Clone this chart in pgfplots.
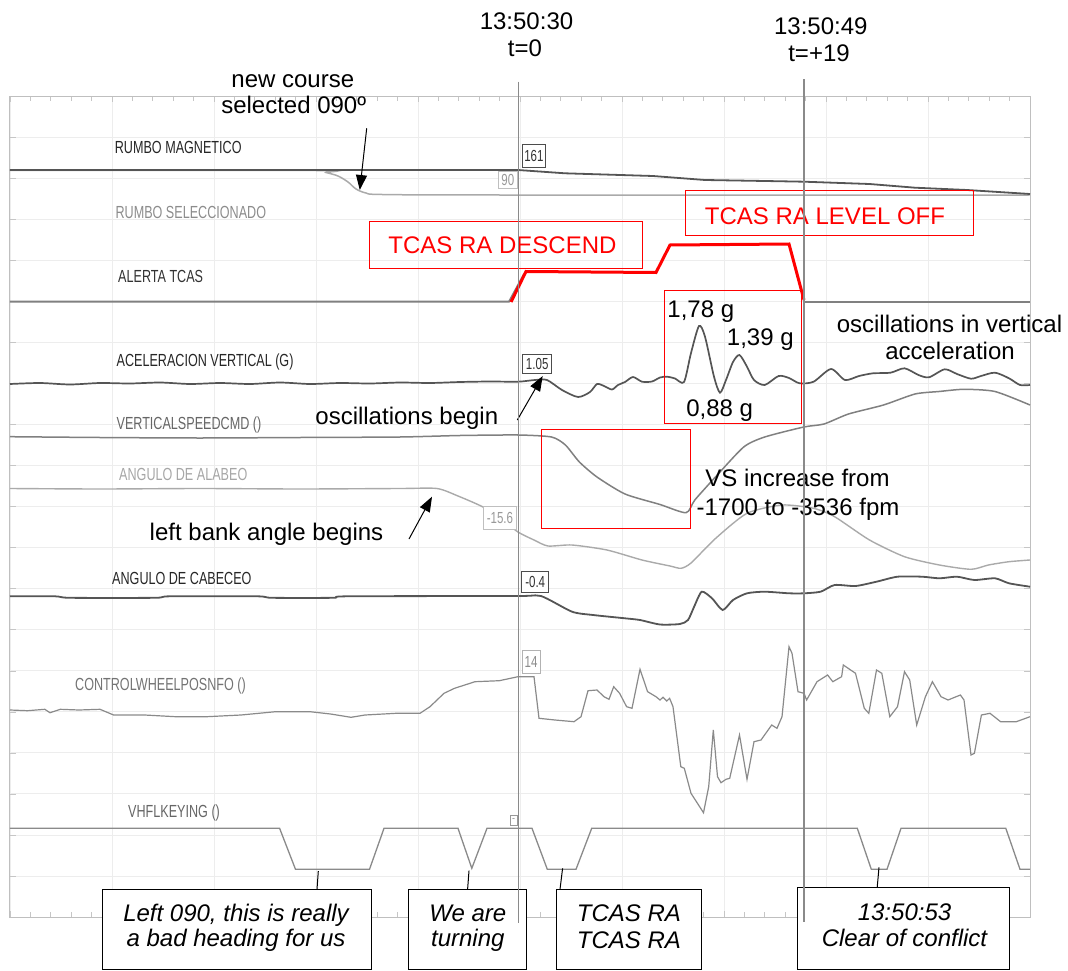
\documentclass[border=0pt]{standalone}
\usepackage{pgfplots}
\pgfplotsset{compat=1.18}
\usetikzlibrary{arrows.meta}
\usepackage{fontspec}
\setmainfont{Liberation Sans}
\newfontfamily\narrowfont[FakeStretch=0.72]{Liberation Sans}
\newcommand\lab{\narrowfont\fontsize{17.5}{20}\selectfont}
\newcommand\val{\narrowfont\fontsize{16}{18}\selectfont}
\newcommand\ann{\fontsize{24}{27}\selectfont}
\definecolor{tdark}{HTML}{555555}
\definecolor{tmid}{HTML}{808080}
\definecolor{tlight}{HTML}{AAAAAA}
\definecolor{tline}{HTML}{8A8A8A}
\begin{document}
\begin{tikzpicture}
\begin{axis}[
  at={(10pt,54pt)}, anchor=south west, scale only axis,
  width=1020pt, height=820.5pt,
  xmin=10, xmax=1030, ymin=96.5, ymax=917, y dir=reverse,
  xtick={10,112,214,316,418,520,622,724,826,928,1030},
  ytick={96.5,137.5,178.6,219.6,260.6,301.6,342.7,383.7,424.7,465.7,506.8,547.8,588.8,629.8,670.9,711.9,752.9,793.9,835,876,917},
  xticklabels={}, yticklabels={},
  minor x tick num=4, minor y tick num=4,
  tick align=inside, tick pos=both,
  major tick length=6pt, minor tick length=5pt,
  tick style={color=gray!45, line width=0.7pt},
  grid=major, major grid style={color=gray!14, line width=0.9pt},
  axis line style={color=gray!50, line width=1pt},
  clip=false,
]
% RUMBO SELECCIONADO
\addplot[color=tlight, line width=1.5pt, smooth, tension=0.5] coordinates {(10,170.5) (316,170.5) (326,172.5) (338,176) (348,182) (356,189) (366,193) (382,194.5) (499,195) (1030,195)};
% RUMBO MAGNETICO
\addplot[color=tdark, line width=1.8pt] coordinates {(10,170) (518,170) (565,173.3) (653,176) (705,180) (765,181) (804,181.7) (869.5,184) (915,187.7) (967,190) (1030,194)};
% ALERTA TCAS
\addplot[color=tmid, line width=1.8pt] coordinates {(10,301.6) (509,301.6) (524,274)};
\addplot[color=tmid, line width=1.8pt] coordinates {(804,301.6) (1030,301.6)};
\addplot[color=red, line width=3pt] coordinates {(511,302) (526,271.5) (656,272.5) (670,245) (789,244) (804,300)};
% ACELERACION VERTICAL
\addplot[color=tdark, line width=1.7pt, smooth, tension=0.45] coordinates {(10,384) (40,383) (70,384.5) (100,383) (130,383.5) (160,382.5) (190,384) (220,383) (250,384) (280,382.5) (310,384) (340,383) (370,383.5) (400,382.5) (430,383) (460,382) (490,381.5) (518,381.7) (535,380) (547,380) (562,390) (578,397) (590,392) (597,384) (604,386) (612,389.5) (618,385) (625,382) (633,377) (642,381.7) (652,381.5) (660,377.5) (667,376.7) (675,378.5) (684,382) (691,353) (699,326) (705,336.7) (714,376.7) (720,392.7) (726,380) (733,362) (739.5,355) (747,366.7) (754,380) (764.7,385) (778.6,376) (789,378) (799.6,383.3) (813.6,381.7) (831,369) (845,380) (859,376) (873,373.3) (890.5,372.7) (904.5,368.3) (918.5,375) (929,377.3) (944.7,369.3) (957,374) (971,378.7) (981,376) (995,372.7) (1009,378.3) (1020,385) (1030,385)};
% VERTICAL SPEED
\addplot[color=tmid, line width=1.5pt, smooth, tension=0.4] coordinates {(10,436.7) (100,437.5) (200,438) (300,437.5) (400,437) (460,435.5) (518,435) (551.5,437) (565.4,445) (579.4,462) (597,477) (625,494) (660,504.5) (686,512.7) (694.8,500) (715.7,476.7) (743.7,447) (764.7,437) (803.8,427) (824,424) (848.5,414) (883.5,405) (915,394) (939,391.5) (964,389.3) (995,391.5) (1030,405)};
% ANGULO DE ALABEO
\addplot[color=tlight, line width=1.4pt, smooth, tension=0.4] coordinates {(10,488.5) (100,489) (200,488.5) (300,489) (400,488.5) (437,488.5) (458,496) (482,506.5) (500,518) (518,532) (534,540) (548,546) (572,545) (607,550) (642,560) (670,566) (681,568.3) (691,563) (715.7,538.3) (747,513.3) (782,505) (813.6,508.3) (834.6,516.7) (869.5,540) (904.5,556.7) (939.4,565) (971,569.3) (988.4,565) (1009,561.7) (1030,560)};
% ANGULO DE CABECEO
\addplot[color=tdark, line width=1.8pt, smooth, tension=0.4] coordinates {(10,596.3) (55,596.3) (70,597.8) (155,597.8) (170,596.3) (257,596.3) (272,597.8) (333,597.8) (348,596.3) (518,596) (541,596) (572,611.7) (593,615) (625,618.3) (640,620) (660,624.5) (680,624) (688,620) (694,607) (701.7,591.7) (712,598.3) (722.7,610) (733,600) (747,593.3) (764.7,591.7) (789,593.3) (804,593.3) (820.6,591.7) (834.6,585) (855.5,586) (876.5,581.7) (897.5,576.7) (922,576.7) (939.4,578.3) (957,576.7) (974.4,580) (995,578.3) (1009,583.3) (1030,586.7)};
% CONTROL WHEEL
\addplot[color=tline, line width=1.2pt] coordinates {(10,710) (27.5,710.7) (44.8,709.3) (50,712.7) (60.3,709.3) (79,710) (100,709.3) (113.6,715) (144.6,715) (175.6,716.7) (206.6,716.7) (241,715) (275.5,711.7) (310,711.7) (330.6,714) (351,717.3) (365,715) (396,713.3) (420,713.3) (430,706.7) (444,693.3) (454.5,688.3) (475,681.7) (499.3,680.7) (518,676.7) (534,676.7) (539,718.3) (555,720) (574,721.7) (581,716.7) (588,690.7) (597,690) (604,696.7) (609,699.3) (613.7,686.7) (619.6,693.3) (626.6,706.7) (632,708.3) (640,669.3) (647.6,691.7) (656,696.7) (660,700) (663,697.3) (666.8,701) (669.6,698.3) (673,706.7) (680.8,766.7) (684.3,768.3) (691,793.3) (703.5,812.7) (708.7,786.7) (713.3,730) (717.5,776.7) (721,782.7) (726,779.3) (729.7,778.3) (739.5,735) (747,779.3) (754,741.7) (761,740) (771.7,725) (777,728.3) (782,716.7) (789,646.7) (792,653.3) (798,691.7) (804,693.3) (806.6,700) (817,681.7) (827.6,675) (832.8,681.7) (841.6,676.7) (843.3,665) (855.5,673.3) (864.3,708.3) (868.8,713.3) (876.5,670) (881.8,673.3) (889.8,716.7) (897.5,706.7) (904.5,671.7) (909.7,680) (916.7,725) (925.4,696.7) (932.4,681.7) (941,696.7) (948,700) (960.4,695) (964,700) (971,755) (974.4,753.3) (981.4,715) (990,713.3) (1000.6,721.7) (1016.3,721.7) (1030,716.7)};
% VHF KEYING
\addplot[color=tline, line width=1.3pt] coordinates {(10,828.3) (279.6,828.3) (295.5,869.3) (369.5,869.3) (384,828.3) (458,828.3) (471.8,868.3) (487,828.3) (532,828.3) (547.3,869.3) (576,869.3) (591.7,828.3) (857.3,828.3) (871.3,869.3) (887,869.3) (901,828.3) (1005.8,828.3) (1020,869.3) (1030,869.3)};

% trace labels
\node[anchor=base west, inner sep=0, text=black!85] at (axis cs:114.7,153.3) {\lab RUMBO MAGNETICO};
\node[anchor=base west, inner sep=0, text=black!45] at (axis cs:115.4,218.3) {\lab RUMBO SELECCIONADO};
\node[anchor=base west, inner sep=0, text=black!80] at (axis cs:118,282.7) {\lab ALERTA TCAS};
\node[anchor=base west, inner sep=0, text=black!85] at (axis cs:116.4,366.5) {\lab ACELERACION VERTICAL (G)};
\node[anchor=base west, inner sep=0, text=black!60] at (axis cs:116.4,429) {\lab VERTICALSPEEDCMD ()};
\node[anchor=base west, inner sep=0, text=black!35] at (axis cs:119,480) {\lab ANGULO DE ALABEO};
\node[anchor=base west, inner sep=0, text=black!85] at (axis cs:112,584) {\lab ANGULO DE CABECEO};
\node[anchor=base west, inner sep=0, text=black!55] at (axis cs:75,690.5) {\lab CONTROLWHEELPOSNFO ()};
\node[anchor=base west, inner sep=0, text=black!60] at (axis cs:128,817) {\lab VHFLKEYING ()};

% value boxes
\draw[black!70, fill=white, line width=1pt] (axis cs:522.8,144.3) rectangle (axis cs:545,167.7);
\node[inner sep=0, text=black!80] at (axis cs:533.9,156) {\val 161};
\draw[black!25, fill=white, line width=1pt] (axis cs:498.6,171.7) rectangle (axis cs:517,189);
\node[inner sep=0, text=black!40] at (axis cs:507.8,180.4) {\val 90};
\draw[black!70, fill=white, line width=1pt] (axis cs:522.7,354) rectangle (axis cs:551.7,373.3);
\node[inner sep=0, text=black!80] at (axis cs:537.2,363.7) {\val 1.05};
\draw[black!25, fill=white, line width=1pt] (axis cs:483.8,506.7) rectangle (axis cs:516,529.3);
\node[inner sep=0, text=black!40] at (axis cs:499.9,518) {\val -15.6};
\draw[black!70, fill=white, line width=1pt] (axis cs:521.7,571.7) rectangle (axis cs:548.7,592.7);
\node[inner sep=0, text=black!80] at (axis cs:535.2,582.2) {\val -0.4};
\draw[black!30, fill=white, line width=1pt] (axis cs:522,650) rectangle (axis cs:540,673.3);
\node[inner sep=0, text=black!45] at (axis cs:531,661.7) {\val 14};
\draw[black!40, fill=white, line width=0.8pt] (axis cs:510.3,815) rectangle (axis cs:517.2,825);
\node[inner sep=0, text=black!50] at (axis cs:513.7,820) {\fontsize{9}{10}\selectfont -};

% red boxes and texts
\draw[red, line width=1pt] (axis cs:369,221) rectangle (axis cs:642,268);
\node[anchor=base, inner sep=0, text=red] at (axis cs:502.5,253.3) {\ann TCAS RA DESCEND};
\draw[red, line width=1pt] (axis cs:685,191) rectangle (axis cs:973,235);
\node[anchor=base, inner sep=0, text=red] at (axis cs:825,224.3) {\ann TCAS RA LEVEL OFF};
\draw[red, line width=1pt] (axis cs:664.4,290) rectangle (axis cs:801.4,423.3);
\draw[red, line width=1pt] (axis cs:541.7,429.3) rectangle (axis cs:690,528.3);

% black annotations
\node[anchor=base, inner sep=0] at (axis cs:700.8,317.5) {\ann 1,78 g};
\node[anchor=base, inner sep=0] at (axis cs:760.3,345) {\ann 1,39 g};
\node[anchor=base, inner sep=0] at (axis cs:719.7,416.7) {\ann 0,88 g};
\node[anchor=base, inner sep=0] at (axis cs:949.5,332.7) {\ann oscillations in vertical};
\node[anchor=base, inner sep=0] at (axis cs:950,359) {\ann acceleration};
\node[anchor=base, inner sep=0] at (axis cs:797.5,486) {\ann VS increase from};
\node[anchor=base, inner sep=0] at (axis cs:798,515) {\ann -1700 to -3536 fpm};
\node[anchor=base, inner sep=0] at (axis cs:406.8,424) {\ann oscillations begin};
\node[anchor=base, inner sep=0] at (axis cs:266.5,540) {\ann left bank angle begins};
\node[anchor=base, inner sep=0] at (axis cs:292.8,87.3) {\ann new course};
\node[anchor=base, inner sep=0] at (axis cs:293.7,114) {\ann selected 090º};
\node[anchor=base, inner sep=0] at (axis cs:526.5,30) {\ann 13:50:30};
\node[anchor=base, inner sep=0] at (axis cs:525,57) {\ann t=0};
\node[anchor=base, inner sep=0] at (axis cs:820.8,34.3) {\ann 13:50:49};
\node[anchor=base, inner sep=0] at (axis cs:819,61.7) {\ann t=+19};

% arrows
\draw[black, line width=1pt, -{Triangle[length=15pt,width=11pt]}] (axis cs:366.7,128.3) -- (axis cs:359.8,190);
\draw[black, line width=1pt, -{Triangle[length=15pt,width=11pt]}] (axis cs:517.3,420) -- (axis cs:542.7,376);
\draw[black, line width=1pt, -{Triangle[length=15pt,width=11pt]}] (axis cs:409,539) -- (axis cs:432,496.7);

% callout leaders and boxes
\draw[black, line width=1pt] (axis cs:318.3,871) -- (axis cs:317,889.3);
\draw[black, line width=1pt] (axis cs:469,870.7) -- (axis cs:467.6,889.3);
\draw[black, line width=1pt] (axis cs:562.6,868.3) -- (axis cs:560,889.3);
\draw[black, line width=1pt] (axis cs:879,867.3) -- (axis cs:877.2,887.3);
\draw[black, fill=white, line width=1pt] (axis cs:102.7,889.3) rectangle (axis cs:371,969.5);
\draw[black, fill=white, line width=1pt] (axis cs:408.7,889.3) rectangle (axis cs:526.9,969.5);
\draw[black, fill=white, line width=1pt] (axis cs:556.7,889.3) rectangle (axis cs:701.7,969.5);
\draw[black, fill=white, line width=1pt] (axis cs:797.9,887.3) rectangle (axis cs:1009.3,969.5);

% time lines
\draw[tline, line width=1.6pt] (axis cs:518.3,81.7) -- (axis cs:518.3,923);
\draw[tline, line width=1.6pt] (axis cs:804,79.3) -- (axis cs:804,922);

% callout texts
\node[anchor=base, inner sep=0] at (axis cs:236,921) {\ann\itshape Left 090, this is really};
\node[anchor=base, inner sep=0] at (axis cs:236,946.5) {\ann\itshape a bad heading for us};
\node[anchor=base, inner sep=0] at (axis cs:467.8,921.5) {\ann\itshape We are};
\node[anchor=base, inner sep=0] at (axis cs:467.8,946.5) {\ann\itshape turning};
\node[anchor=base, inner sep=0] at (axis cs:629,921.7) {\ann\itshape TCAS RA};
\node[anchor=base, inner sep=0] at (axis cs:629,948.3) {\ann\itshape TCAS RA};
\node[anchor=base, inner sep=0] at (axis cs:904.5,920) {\ann\itshape 13:50:53};
\node[anchor=base, inner sep=0] at (axis cs:904.5,946.7) {\ann\itshape Clear of conflict};
\end{axis}
\pgfresetboundingbox
\useasboundingbox (0pt,0pt) rectangle (1068pt,971pt);
\end{tikzpicture}
\end{document}
